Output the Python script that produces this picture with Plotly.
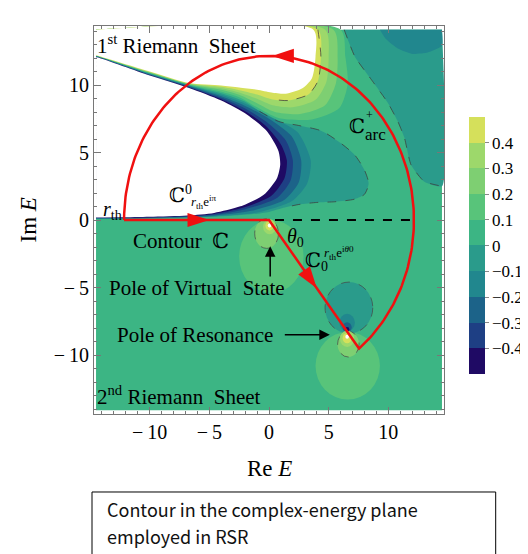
import numpy as np
import plotly.graph_objects as go

SERIF = "Liberation Serif, DejaVu Serif, serif"

# ---------------- colour levels ----------------
level_edges = [-0.5, -0.4, -0.3, -0.2, -0.1, 0.0, 0.1, 0.2, 0.3, 0.4, 0.5]
band_colors = ["#1f0a64", "#1e3f84", "#1c6389", "#21878e", "#2a9b8b",
               "#3cb584", "#58c47a", "#7ecf72", "#9dd86b", "#d5e05b"]
cbar_tickvals = [-0.4, -0.3, -0.2, -0.1, 0.0, 0.1, 0.2, 0.3, 0.4]
cbar_ticktext = ["\u22120.4", "\u22120.3", "\u22120.2", "\u22120.1", "0", "0.1", "0.2", "0.3", "0.4"]

x_ticks = [-10, -5, 0, 5, 10]
x_ticktext = ["\u2212\u200910", "\u2212\u20095", "0", "5", "10"]
y_ticks = [-10, -5, 0, 5, 10]
y_ticktext = ["\u2212\u200910", "\u2212\u20095", "0", "5", "10"]

# ---------------- field regions ----------------
region_x = [-14.5, 14.5]
region_y = [-14.1, 14.1]

# upper-right negative area
ur0_x = [6.3, 7.2, 8.58, 9.97, 10.8, 11.36, 11.9, 13.0, 14.5, 14.5]
ur0_y = [14.1, 12.1, 10.4, 8.67, 7.3, 6.07, 4.1, 2.86, 2.5, 14.1]
ur1_x = [9.3, 9.8, 10.8, 12.0, 13.3, 14.5, 14.5]
ur1_y = [14.1, 13.4, 12.7, 12.3, 12.4, 12.9, 14.1]

# positive side (1st sheet, upper-left)   level >= 0.1 ... 0.4, white beyond 0.5
p01_x = [-14.5, 6.0, 6.4, 6.6, 5.9, 3.6, 0.8, -1.0, -2.5, -4.0, -6.7, -10.0, -14.2, -14.5]
p01_y = [14.1, 14.1, 12.1, 10.1, 8.3, 7.45, 7.55, 8.35, 9.1, 9.5, 10.02, 10.88, 12.09, 12.16]
p02_x = [-14.5, 5.4, 5.75, 5.6, 4.7, 2.6, 0.5, -1.0, -2.5, -4.0, -6.7, -10.0, -14.2, -14.5]
p02_y = [14.1, 14.1, 12.1, 10.1, 8.5, 7.85, 8.0, 8.65, 9.27, 9.64, 10.05, 10.91, 12.1, 12.17]
p03_x = [-14.5, 4.7, 5.0, 4.8, 3.9, 2.0, 0.3, -1.0, -2.5, -4.0, -6.7, -10.0, -14.2, -14.5]
p03_y = [14.1, 14.1, 12.1, 10.2, 8.9, 8.35, 8.5, 8.98, 9.45, 9.76, 10.08, 10.94, 12.11, 12.18]
p04_x = [-14.5, 4.1, 4.35, 4.1, 3.3, 1.6, 0.2, -1.0, -2.5, -4.0, -6.7, -10.0, -14.2, -14.5]
p04_y = [14.1, 14.1, 12.1, 10.3, 9.3, 8.85, 8.95, 9.3, 9.62, 9.87, 10.11, 10.97, 12.12, 12.19]
w1_x = [-14.5, 3.72, 3.9, 3.6, 2.8, 1.4, 0.2, -1.0, -2.5, -4.0, -6.7, -10.0, -14.2, -14.5]
w1_y = [14.1, 14.1, 12.1, 10.5, 9.75, 9.35, 9.45, 9.65, 9.82, 9.97, 10.15, 11.0, 12.13, 12.2]

# negative side (parabola-shaped region)   level <= 0 ... -0.4, white below -0.5
n00_x = [-14.5, -14.2, -10.0, -6.7, -4.0, -2.0, -0.8, 0.8, 2.5, 4.4, 6.0, 7.2, 8.0, 8.35,
         8.0, 7.2, 5.5, 4.0, 2.5, 1.2, 0.0, -1.5, -4.6, -8.0, -11.0, -14.5]
n00_y = [12.15, 12.08, 10.85, 9.99, 9.38, 8.75, 8.05, 7.3, 7.0, 6.6, 5.7, 4.8, 3.7, 2.7,
         1.9, 1.55, 1.35, 1.3, 1.15, 0.9, 0.6, 0.42, 0.24, 0.14, 0.1, 0.08]
n01_x = [-14.5, -14.2, -10.0, -6.7, -4.0, -2.0, 0.0, 2.4, 3.5, 3.2, 2.0, -1.0, -4.6, -6.8, -10.0, -14.5]
n01_y = [12.13, 12.06, 10.82, 9.95, 9.27, 8.62, 7.7, 6.5, 4.4, 2.7, 1.45, 0.55, 0.27, 0.19, 0.13, 0.1]
n02_x = [-14.5, -14.2, -10.0, -6.7, -4.0, -2.0, 0.0, 1.9, 2.7, 2.5, 1.3, -1.5, -4.6, -6.8, -10.0, -14.5]
n02_y = [12.11, 12.04, 10.78, 9.91, 9.16, 8.45, 7.5, 6.2, 4.4, 2.8, 1.5, 0.68, 0.32, 0.22, 0.15, 0.12]
n03_x = [-14.5, -14.2, -10.0, -6.7, -4.0, -2.0, -0.2, 1.4, 2.0, 1.8, 0.7, -2.0, -4.6, -6.8, -10.0, -14.5]
n03_y = [12.09, 12.02, 10.75, 9.86, 9.05, 8.25, 7.25, 5.9, 4.4, 2.9, 1.65, 0.8, 0.38, 0.25, 0.17, 0.14]
n04_x = [-14.5, -14.2, -10.0, -6.7, -4.0, -2.0, -0.3, 1.0, 1.5, 1.3, 0.2, -2.2, -4.6, -6.8, -10.0, -14.5]
n04_y = [12.07, 12.01, 10.72, 9.82, 8.95, 8.05, 7.0, 5.6, 4.4, 3.1, 1.8, 0.9, 0.45, 0.29, 0.2, 0.16]
w2_x = [-14.5, -14.2, -10.0, -6.7, -4.0, -1.83, -0.17, 0.8, 0.94, 0.67, -0.44, -2.4, -4.6, -6.83, -10.0, -12.5, -14.5]
w2_y = [12.05, 12.0, 10.7, 9.78, 8.85, 7.8, 6.57, 5.09, 4.1, 3.1, 1.87, 1.01, 0.52, 0.33, 0.24, 0.2, 0.18]

# pole blobs on the 2nd sheet: centre, radii, band index (-1 = white), dashed outline
blob_cx = [0.2, -0.2, 0.05, 0.05, 0.05, 6.6, 6.7, 6.55, 6.55, 6.55, 6.65, 6.55, 6.55, 6.55]
blob_cy = [-2.7, -1.0, -0.5, -0.42, -0.4, -10.8, -6.5, -7.6, -7.95, -8.1, -9.2, -8.8, -8.75, -8.65]
blob_rx = [2.7, 1.0, 0.55, 0.35, 0.15, 2.7, 2.0, 0.65, 0.38, 0.18, 0.9, 0.6, 0.38, 0.15]
blob_ry = [2.7, 1.1, 0.55, 0.35, 0.15, 2.5, 1.9, 0.65, 0.38, 0.18, 0.95, 0.6, 0.38, 0.15]
blob_band = [6, 7, 8, 9, -1, 6, 4, 3, 2, 0, 7, 8, 9, -1]
blob_dash = [False, True, False, False, False, False, True, False, False, False, True, False, False, False]

# integration contour
r_th = 12.15
theta0_deg = 51.6
arrow_x = [-5.0, 4.0, 0.25]
arrow_y = [0.0, -5.05, 12.15]
arrow_angle = [90, 144.8, 270]

fig = go.Figure()

# base of the field
shapes = [dict(type="rect", xref="x", yref="y", x0=region_x[0], x1=region_x[1],
               y0=region_y[0], y1=region_y[1], fillcolor=band_colors[5],
               line=dict(width=0), layer="below")]
for cx, cy, rx, ry, b, d in zip(blob_cx, blob_cy, blob_rx, blob_ry, blob_band, blob_dash):
    shapes.append(dict(type="circle", xref="x", yref="y", x0=cx - rx, x1=cx + rx,
                       y0=cy - ry, y1=cy + ry,
                       fillcolor="white" if b < 0 else band_colors[b],
                       line=dict(width=1 if d else 0, color="rgba(70,70,70,0.7)", dash="dash"),
                       layer="below"))


def poly(xs, ys, color, smooth=0.7):
    fig.add_trace(go.Scatter(x=xs, y=ys, mode="lines", fill="toself", fillcolor=color,
                             line=dict(width=0, shape="spline", smoothing=smooth),
                             hoverinfo="skip", showlegend=False))


def dashed(xs, ys, smooth=0.7):
    fig.add_trace(go.Scatter(x=xs, y=ys, mode="lines",
                             line=dict(width=1, color="rgba(60,60,60,0.75)", dash="dash",
                                       shape="spline", smoothing=smooth),
                             hoverinfo="skip", showlegend=False))


poly(ur0_x, ur0_y, band_colors[4], 0.5)
poly(ur1_x, ur1_y, band_colors[3], 0.5)
poly(p01_x, p01_y, band_colors[6])
poly(p02_x, p02_y, band_colors[7])
poly(p03_x, p03_y, band_colors[8])
poly(p04_x, p04_y, band_colors[9])
poly(w1_x, w1_y, "white")
poly(n00_x, n00_y, band_colors[4])
poly(n01_x, n01_y, band_colors[3])
poly(n02_x, n02_y, band_colors[2])
poly(n03_x, n03_y, band_colors[1])
poly(n04_x, n04_y, band_colors[0])
poly(w2_x, w2_y, "white")

dashed(ur0_x[:-1], ur0_y[:-1], 0.5)
dashed(n00_x[6:20], n00_y[6:20])
dashed(p04_x[1:7], p04_y[1:7])

# reference dashed line (theta0 origin)
fig.add_trace(go.Scatter(x=[0.5, 12.3], y=[0, 0], mode="lines",
                         line=dict(color="black", width=2, dash="dash"),
                         hoverinfo="skip", showlegend=False))

# integration contour C
t = np.linspace(-np.deg2rad(theta0_deg), np.pi, 200)
end_x = r_th * np.cos(np.deg2rad(theta0_deg))
end_y = -r_th * np.sin(np.deg2rad(theta0_deg))
cx_path = [-r_th, 0.0, end_x] + list(r_th * np.cos(t))
cy_path = [0.0, 0.0, end_y] + list(r_th * np.sin(t))
fig.add_trace(go.Scatter(x=cx_path, y=cy_path, mode="lines",
                         line=dict(color="#f01010", width=2.5),
                         hoverinfo="skip", showlegend=False))
fig.add_trace(go.Scatter(x=arrow_x, y=arrow_y, mode="markers",
                         marker=dict(symbol="arrow", size=23, color="#f01010",
                                     angle=arrow_angle, line=dict(width=0)),
                         hoverinfo="skip", showlegend=False))

# colourbar (dummy trace)
cs = []
for i, c in enumerate(band_colors):
    cs.append([i / 10, c])
    cs.append([(i + 1) / 10, c])
fig.add_trace(go.Scatter(x=[100], y=[100], mode="markers",
                         marker=dict(color=[0], colorscale=cs, cmin=-0.5, cmax=0.5, size=1,
                                     showscale=True,
                                     colorbar=dict(thickness=16, len=257, lenmode="pixels",
                                                   x=1.071, xanchor="left", y=0.434,
                                                   yanchor="middle", xpad=0, ypad=0,
                                                   outlinewidth=0, ticks="outside", ticklen=4,
                                                   tickcolor="#888", tickvals=cbar_tickvals,
                                                   ticktext=cbar_ticktext,
                                                   tickfont=dict(family=SERIF, size=17, color="black"))),
                         hoverinfo="skip", showlegend=False))

ann = []


def txt(x, y, s, size=20, xanchor="center", **kw):
    ann.append(dict(x=x, y=y, xref="x", yref="y", text=s, showarrow=False,
                    xanchor=xanchor, yanchor="middle",
                    font=dict(family=SERIF, size=size, color="black"), **kw))


txt(-14.6, 13.0, "1<sup>st</sup> Riemann\u00a0\u00a0Sheet", 21, "left")
txt(-14.6, -13.0, "2<sup>nd</sup> Riemann\u00a0\u00a0Sheet", 21, "left")
txt(-13.1, 0.7, "<i>r</i><sub>th</sub>", 20)
txt(-7.4, 1.95, "\u2102<sup>0</sup>", 20)
txt(-5.5, 1.3, "<i>r</i><sub>th</sub>e<sup>i\u03c0</sup>", 13)
txt(-11.6, -1.55, "Contour\u00a0\u00a0\u2102", 21, "left")
txt(2.2, -1.3, "<i>\u03b8</i><sub>0</sub>", 20)
txt(4.0, -3.1, "\u2102<sub>0</sub>", 20)
txt(5.9, -2.45, "<i>r</i><sub>th</sub>e<sup>i<i>\u03b8</i>0</sup>", 13)
txt(-6.0, -5.05, "Pole of Virtual\u00a0\u00a0State", 21)
txt(-6.2, -8.5, "Pole of Resonance", 21)
txt(7.35, 7.0, "\u2102", 20)
txt(8.4, 7.8, "+", 12)
txt(8.9, 6.3, "arc", 17)

# black pointer arrows
for (tx, ty, ax_, ay_) in [(0.1, -1.95, 0.1, -4.3), (5.1, -8.5, 1.2, -8.5)]:
    ann.append(dict(x=tx, y=ty, ax=ax_, ay=ay_, xref="x", yref="y", axref="x", ayref="y",
                    showarrow=True, arrowhead=2, arrowsize=1.4, arrowwidth=1.5,
                    arrowcolor="black", text=""))

# axis titles
ann.append(dict(x=0.5, y=-0.14, xref="paper", yref="paper", showarrow=False,
                text="Re <i>E</i>", font=dict(family=SERIF, size=23, color="black"),
                xanchor="center", yanchor="middle"))
ann.append(dict(x=-0.19, y=0.5, xref="paper", yref="paper", showarrow=False,
                text="Im <i>E</i>", textangle=-90, font=dict(family=SERIF, size=23, color="black"),
                xanchor="center", yanchor="middle"))

# caption box
caption_lines = ["Contour in the complex-energy plane", "employed in RSR"]
shapes.append(dict(type="rect", xref="paper", yref="paper", x0=-0.0057, x1=1.1477,
                   y0=-0.40, y1=-0.201, line=dict(color="black", width=1),
                   fillcolor="rgba(0,0,0,0)"))
for s, yy in zip(caption_lines, [-0.245, -0.315]):
    ann.append(dict(x=0.03, y=yy, xref="paper", yref="paper", showarrow=False, text=s,
                    xanchor="left", yanchor="middle",
                    font=dict(family="Noto Sans CJK JP, sans-serif", size=18, color="#111")))

axis_common = dict(showline=True, linecolor="#777", linewidth=1, mirror="ticks",
                   ticks="inside", ticklen=7, tickcolor="#777", showgrid=False, zeroline=False,
                   tickfont=dict(family=SERIF, size=20, color="black"),
                   minor=dict(dtick=1, ticks="inside", ticklen=3, tickcolor="#777", showgrid=False))

fig.update_layout(
    width=528, height=554,
    margin=dict(l=86, r=90, t=18, b=148),
    paper_bgcolor="white", plot_bgcolor="white",
    xaxis=dict(range=[-14.67, 14.67], tickvals=x_ticks, ticktext=x_ticktext, **axis_common),
    yaxis=dict(range=[-14.37, 14.37], tickvals=y_ticks, ticktext=y_ticktext, **axis_common),
    shapes=shapes, annotations=ann, showlegend=False, hovermode=False,
)

fig.write_html("out.html")
